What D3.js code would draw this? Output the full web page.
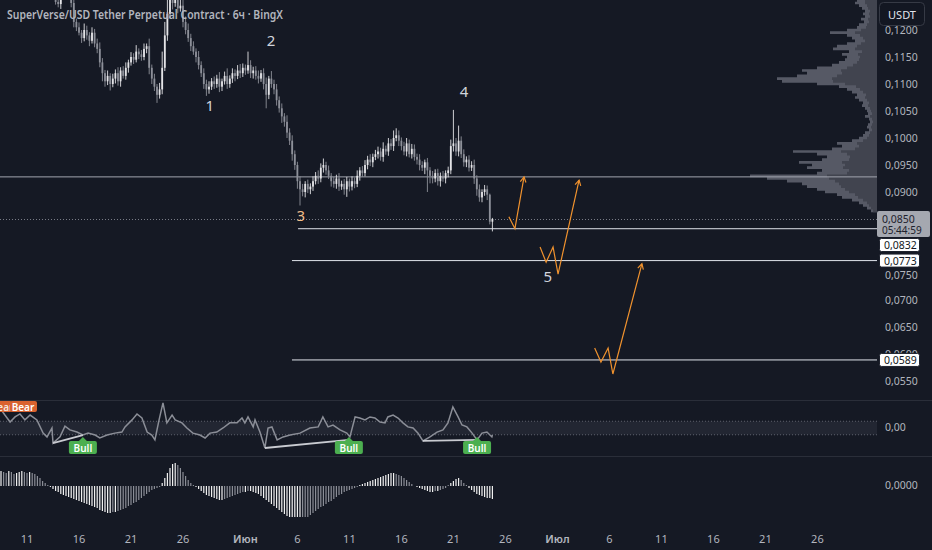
<!DOCTYPE html>
<html><head><meta charset="utf-8">
<script src="https://cdn.jsdelivr.net/npm/d3@7"></script>
<style>
html,body{margin:0;padding:0;background:#151924;}
svg{display:block;font-family:"Noto Sans","Open Sans",sans-serif;}
</style></head><body>
<svg id="c" width="932" height="550"></svg>
<script>
// ---------------- DATA ----------------
const title = "SuperVerse/USD Tether Perpetual Contract · 6ч · BingX";
const candleStartISO = "2024-05-08T00:00Z"; // first 6h candle
const firstOpen = 1295; // price units of 0.0001
const closes = [
1300,1310,1295,1320,1305,1290,1300,1315,1330,1310,1295,1285,1300,1290,1305,1295,1280,1290,1285,1275,1280,1270,1265,
1252,1248,1262,1270,1275,1268,1250,1215,
1205,1195,1185,1200,1190,1180,1195,1175,1165,
1140,1120,1105,1115,1100,
1110,1120,1105,1125,1115,1130,
1140,1150,1145,1160,1155,1150,1165,1170,
1130,1110,1095,1080,1090,
1130,1190,1230,1270,1250,1265,1240,1245,1215,
1200,1185,1170,1160,1150,1135,1120,1100,1090,
1095,1105,1100,1110,1095,1105,1115,1100,1110,1120,
1115,1125,1120,1130,1125,1135,1120,1125,
1115,1110,1120,1100,1080,1110,1100,1090,1070,1055,1040,1030,
1010,995,970,950,920,905,
900,915,905,910,
920,930,925,945,950,940,
930,920,915,925,910,915,905,920,910,
920,915,930,940,935,950,960,955,965,
970,975,965,980,975,990,985,
1000,1005,995,
985,975,990,970,980,965,
960,950,945,955,940,
930,925,935,920,930,925,935,940,
985,990,975,995,970,
955,960,945,950,
925,905,890,900,
905,895,845,850];
const upWick = [
8,5,12,6,9,4,10,7,15,5,8,6,11,4,9,7,5,10,6,8,
7,5,6,9,12,8,5,7,10,14,20,6,9,5,12,8,6,10,7,9,
12,8,6,10,5,9,7,11,6,8,10,5,9,7,12,6,8,10,5,14,
6,9,5,12,30,25,40,20,35,15,28,18,22,10,12,8,9,6,11,7,
9,8,10,6,9,7,12,5,8,14,6,9,7,10,12,8,6,25,9,7,
8,10,6,9,12,5,14,8,10,7,9,6,12,8,10,7,6,9,10,5,
8,6,9,7,10,8,12,6,9,5,8,7,10,6,9,8,5,9,7,10,
6,8,9,7,10,6,8,9,7,12,6,10,8,14,13,9,6,8,10,7,
9,8,6,10,7,5,8,6,9,7,8,6,9,5,7,12,62,10,28,8,
9,6,8,7,10,6,9,5,8,7,2,2];
const dnWick = [
6,9,5,8,4,10,7,6,5,9,8,12,5,7,6,10,8,6,9,5,
8,6,7,5,6,9,4,7,6,8,10,7,5,9,6,8,10,5,7,8,
9,15,10,7,12,6,9,8,10,5,7,9,6,8,5,9,7,6,8,12,
10,8,15,7,9,6,10,8,12,7,9,6,10,8,7,9,6,10,8,7,
9,12,8,6,9,7,10,8,6,9,7,8,10,6,9,7,8,6,9,10,
7,9,6,10,25,8,7,9,10,8,12,9,10,8,12,9,14,30,8,10,
7,9,8,6,10,7,9,8,6,10,7,9,8,6,10,14,9,7,8,6,
9,7,6,8,7,9,6,8,7,9,6,8,7,9,6,10,8,7,9,6,
8,7,9,10,6,12,40,14,9,7,8,10,6,9,8,7,10,8,9,7,
8,9,7,6,10,12,8,9,7,10,5,18];

// volume profile (bins of 0.0005 from 0.1255 down)
const profileTop = 0.1255, profileStep = 0.0005;
const profileTotal = [20,22,18,15,12,14,12,16,13,18,20,30,47,30,25,22,30,40,44,28,35,30,32,38,45,60,75,70,80,100,95,60,38,30,25,20,22,18,14,15,12,10,9,12,8,7,9,10,8,12,14,18,25,40,35,45,84,60,50,55,78,65,70,55,60,127,110,90,75,70,60,52,40,35,25,18,14,10,6];
const profileInner = [12,12,10,9,7,8,7,9,8,10,11,16,22,17,14,12,16,20,22,15,19,17,18,20,24,30,36,35,40,45,44,32,21,17,14,11,12,10,8,9,7,6,5,7,5,4,5,6,5,7,8,10,14,20,18,22,36,30,27,28,35,32,34,28,30,50,48,42,38,36,32,28,22,19,14,10,8,6,4];

// oscillator [candle index, value]
const osc = [[0,0.68],[1.6,0.74],[3.5,0.48],[5.5,0.22],[7.4,0.41],[9.3,0.52],[11.2,0.30],[13.2,0.48],[15.8,0.30],[18.2,-0.19],[19.7,-0.33],[21.6,0.0],[22,-0.56],[24.7,-0.33],[26.6,0.07],[28.5,-0.07],[31.2,-0.15],[33.5,-0.26],[35.5,-0.19],[38.2,-0.26],[40,-0.37],[42.8,-0.26],[45.8,-0.19],[48.5,-0.15],[49.7,0.04],[52.4,0.30],[54.3,0.52],[56.2,0.37],[58.2,-0.15],[60,-0.26],[61.2,-0.44],[62.8,0.30],[64.3,0.93],[65.8,0.19],[67.8,0.48],[69,0.30],[71.6,0.19],[73.5,0],[75.8,-0.19],[78.5,-0.26],[80.5,-0.37],[82.4,-0.19],[85,-0.15],[87.4,0],[90,0.19],[92.8,0.19],[94.7,0.37],[95.8,0.19],[97,0.41],[99,0.04],[99.7,0.30],[101.6,-0.15],[103.5,-0.74],[104.7,0],[106.2,0.04],[108.2,-0.44],[110.5,-0.33],[113.2,-0.26],[117,-0.19],[120.8,0],[124,0.04],[125.8,0.41],[127.8,0.04],[129.7,0.11],[132.4,-0.07],[135,-0.19],[136.2,-0.33],[138.2,0.41],[140,0.37],[142,0.30],[143.9,0.41],[145.8,0.37],[147.8,0.22],[149.7,0.19],[150.8,0.41],[152.8,0.48],[154.7,0.37],[156.6,0.19],[158.5,0.04],[160.5,0],[162.4,-0.19],[164.3,-0.48],[167,-0.33],[169.7,-0.15],[172,-0.07],[173.9,0.19],[175.8,0.78],[177.8,0.41],[179.3,0.11],[181.2,0.04],[183.2,-0.19],[185.1,-0.44],[187,-0.19],[188.9,-0.15],[190.8,-0.33],[191,-0.26]];
const divergences = [[[22,-0.56],[33.5,-0.26]],[[103.5,-0.74],[135.8,-0.44]],[[164.3,-0.48],[185.1,-0.44]]];

// MACD histogram (one per candle)
const hist = [13,14,15,14,13,15,14,12,13,14,15,14,13,14,13,12,
10,8,5,3,1,
-1,-3,-5,-6,-8,-9,-10,-11,-12,-13,-14,-15,-16,-17,-18,-19,-20,-21,
-22,-24,-25,-26,-27,-27,-26,-26,
-25,-24,-23,-22,-20,-19,-17,-16,-14,-12,-10,-8,-6,-4,
-3,-2,-1,
3,8,13,18,22,23,21,18,14,
10,6,3,1,-1,-3,
-5,-7,-9,-10,-11,-12,-13,-14,-14,-13,-12,-11,-10,-9,
-8,-7,-6,-6,-5,-5,-6,-7,
-8,-10,-12,-14,-16,-18,-20,-22,-24,-26,-28,-30,-31,-33,-34,-35,-35,
-34,-33,-31,-29,-27,-25,-23,-21,-20,-18,-16,-15,-13,-11,-9,-8,-6,-5,
-4,-3,-2,-1,1,
2,3,4,5,6,7,8,9,10,11,12,13,13,12,11,10,8,
6,4,2,0,-1,-2,-3,
-4,-5,-6,-6,-5,-5,-4,-3,-2,
1,3,5,7,8,6,
3,1,-2,-4,-6,-8,-9,-10,-11,-12,-12,-13];

// drawings
const fullLine = 0.0928;
const rays = [{start:"2024-06-06T01:30Z", price:0.0832},{start:"2024-06-05T11:30Z", price:0.0773},{start:"2024-06-05T11:30Z", price:0.0589}];
const currentPrice = 0.0850, countdown = "05:44:59";
const arrows = [
 [["2024-06-26T08:00Z",0.0854],["2024-06-26T22:00Z",0.0832],["2024-06-27T19:00Z",0.0928]],
 [["2024-06-29T08:00Z",0.0798],["2024-06-29T22:00Z",0.0770],["2024-06-30T14:00Z",0.0798],["2024-07-01T01:30Z",0.0748],["2024-07-03T02:00Z",0.0922]],
 [["2024-07-04T14:00Z",0.0611],["2024-07-05T04:30Z",0.0585],["2024-07-05T21:00Z",0.0611],["2024-07-06T08:00Z",0.0563],["2024-07-09T03:00Z",0.0767]]
];
const waveLabels = [
 {t:"1", d:"2024-05-28T14:00Z", p:0.1061, c:"#d1d4dc"},
 {t:"2", d:"2024-06-03T11:00Z", p:0.1181, c:"#d1d4dc"},
 {t:"3", d:"2024-06-06T08:00Z", p:0.0857, c:"#f0bd8a"},
 {t:"4", d:"2024-06-22T00:30Z", p:0.1087, c:"#d1d4dc"},
 {t:"5", d:"2024-06-30T02:00Z", p:0.0744, c:"#d1d4dc"}
];
const priceTicks = [0.120,0.115,0.110,0.105,0.100,0.095,0.090,0.085,0.080,0.075,0.070,0.065,0.060,0.055];
const timeTicks = ["2024-05-11","2024-05-16","2024-05-21","2024-05-26","2024-06-01","2024-06-06","2024-06-11","2024-06-16","2024-06-21","2024-06-26","2024-07-01","2024-07-06","2024-07-11","2024-07-16","2024-07-21","2024-07-26"];
const timeLabels = ["11","16","21","26","Июн","6","11","16","21","26","Июл","6","11","16","21","26"];

// ---------------- DRAW ----------------
const W = 932, H = 550, PW = 877;
const DAY = 864e5, HOUR = 36e5;
const svg = d3.select("#c");
const bg = "#151924";
svg.append("rect").attr("width",W).attr("height",H).attr("fill",bg);

const t0 = Date.UTC(2024,4,11);
const x = d3.scaleTime().domain([new Date(t0 - 27/10.4*DAY), new Date(t0 + 850/10.4*DAY)]).range([0, PW]);
const y = d3.scaleLinear().domain([0.055, 0.12]).range([381, 30]);
const oy = d3.scaleLinear().domain([-1, 1]).range([455, 401]);
const hy = d3.scaleLinear().domain([-30, 30]).range([516, 456]);
const cs = Date.parse(candleStartISO);
const tOf = i => new Date(cs + i*6*HOUR);
const fmt4 = v => d3.format(".4f")(v).replace(".", ",");

const defs = svg.append("defs");
defs.append("clipPath").attr("id","cMain").append("rect").attr("x",0).attr("y",0).attr("width",PW).attr("height",400);
defs.append("clipPath").attr("id","cOsc").append("rect").attr("x",0).attr("y",401).attr("width",PW).attr("height",55);
defs.append("clipPath").attr("id","cHist").append("rect").attr("x",0).attr("y",457).attr("width",PW).attr("height",60);

// pane separators
[400.5, 456.5].forEach(v => svg.append("line").attr("x1",0).attr("x2",W).attr("y1",v).attr("y2",v).attr("stroke","#2a2e39"));

const main = svg.append("g").attr("clip-path","url(#cMain)");

// volume profile (step areas)
const pw = d3.scaleLinear().domain([0, 127]).range([0, 127]);
const profRows = profileTotal.map((v,k) => ({p: profileTop - k*profileStep, tot: v, inn: profileInner[k]}));
const stepRows = [];
profRows.forEach(r => { stepRows.push({y: y(r.p + profileStep/2), r}); stepRows.push({y: y(r.p - profileStep/2), r}); });
const areaTot = d3.area().y(d=>d.y).x0(PW).x1(d=>PW - pw(d.r.tot));
const areaInn = d3.area().y(d=>d.y).x0(PW).x1(d=>PW - pw(d.r.inn));
main.append("path").attr("d", areaTot(stepRows)).attr("fill","#565965");
main.append("path").attr("d", areaInn(stepRows)).attr("fill","#41444f");

// horizontal lines
main.append("line").attr("x1",0).attr("x2",PW).attr("y1",y(fullLine)).attr("y2",y(fullLine)).attr("stroke","#a3a6af").attr("stroke-width",1);
rays.forEach(r => main.append("line").attr("x1",x(new Date(r.start))).attr("x2",PW).attr("y1",y(r.price)).attr("y2",y(r.price)).attr("stroke","#e0e3eb").attr("stroke-width",1));
main.append("line").attr("x1",0).attr("x2",PW).attr("y1",Math.round(y(currentPrice))+0.5).attr("y2",Math.round(y(currentPrice))+0.5)
  .attr("stroke","#787b86").attr("stroke-dasharray","1,2");

// candles
const candles = closes.map((c,i) => {
  const o = i ? closes[i-1] : firstOpen;
  return {t:tOf(i), o:o/1e4, c:c/1e4, h:(Math.max(o,c)+upWick[i])/1e4, l:(Math.min(o,c)-dnWick[i])/1e4};
});
const cg = main.append("g");
candles.forEach(d => {
  const cx = x(d.t);
  const col = d.c >= d.o ? "#e3e3e6" : "#8d9099";
  cg.append("line").attr("x1",cx).attr("x2",cx).attr("y1",y(d.h)).attr("y2",y(d.l)).attr("stroke",col).attr("stroke-width",0.9);
  const yt = y(Math.max(d.o,d.c)), yb = y(Math.min(d.o,d.c));
  cg.append("rect").attr("x",cx-0.9).attr("y",yt).attr("width",1.8).attr("height",Math.max(1,yb-yt)).attr("fill",col);
});

// orange arrows
arrows.forEach(a => {
  const pts = a.map(p => [x(new Date(p[0])), y(p[1])]);
  main.append("path").attr("d", d3.line()(pts)).attr("fill","none").attr("stroke","#f0922e").attr("stroke-width",1.2);
  const [x1,y1] = pts[pts.length-2], [x2,y2] = pts[pts.length-1];
  const ang = Math.atan2(y2-y1, x2-x1), L = 6;
  const h1 = [x2 - L*Math.cos(ang-0.5), y2 - L*Math.sin(ang-0.5)];
  const h2 = [x2 - L*Math.cos(ang+0.5), y2 - L*Math.sin(ang+0.5)];
  main.append("path").attr("d", d3.line()([h1,[x2,y2],h2])).attr("fill","none").attr("stroke","#f0922e").attr("stroke-width",1.2);
});

// wave labels
waveLabels.forEach(l => main.append("text").attr("x",x(new Date(l.d))).attr("y",y(l.p)).attr("text-anchor","middle")
  .attr("dominant-baseline","central").attr("font-size",15).attr("fill",l.c).text(l.t));

// title
svg.append("text").attr("x",7).attr("y",19).attr("font-size",12.5).attr("font-weight",600).attr("fill","#b2b5be")
  .attr("textLength",276).attr("lengthAdjust","spacingAndGlyphs").text(title);

// ---- oscillator pane ----
const og = svg.append("g").attr("clip-path","url(#cOsc)");
og.append("rect").attr("x",0).attr("width",PW).attr("y",oy(0.25)).attr("height",oy(-0.25)-oy(0.25)).attr("fill","#222632");
[0.25,-0.25].forEach(v => og.append("line").attr("x1",0).attr("x2",PW).attr("y1",oy(v)).attr("y2",oy(v)).attr("stroke","#5d606b").attr("stroke-dasharray","1,2"));
og.append("path").attr("d", d3.line().x(d=>x(tOf(d[0]))).y(d=>oy(d[1]))(osc)).attr("fill","none").attr("stroke","#8b8e97").attr("stroke-width",1.5);
divergences.forEach(dv => og.append("path").attr("d", d3.line().x(d=>x(tOf(d[0]))).y(d=>oy(d[1]))(dv)).attr("stroke","#c9cbd1").attr("stroke-width",1.8).attr("fill","none"));
divergences.forEach(dv => {
  const e = dv[dv.length-1], cx = x(tOf(e[0]));
  const top = 441;
  og.append("path").attr("d",`M${cx-4},${top}L${cx},${top-4}L${cx+4},${top}Z`).attr("fill","#4caf50");
  og.append("rect").attr("x",cx-14).attr("y",top).attr("width",28).attr("height",13).attr("rx",2).attr("fill","#4caf50");
  og.append("text").attr("x",cx).attr("y",top+6.8).attr("text-anchor","middle").attr("dominant-baseline","central").attr("font-size",10).attr("font-weight",600).attr("fill","#ffffff").text("Bull");
});
// bear labels at the left edge (two overlapping)
og.append("rect").attr("x",-26).attr("y",401).attr("width",38).attr("height",11).attr("rx",2).attr("fill","#d9622f");
og.append("text").attr("x",2).attr("y",406.5).attr("text-anchor","middle").attr("dominant-baseline","central").attr("font-size",10).attr("font-weight",600).attr("fill","#f2e6df").text("Bear");
og.append("rect").attr("x",10).attr("y",401).attr("width",27).attr("height",11).attr("rx",2).attr("fill","#d9622f");
og.append("text").attr("x",23).attr("y",406.5).attr("text-anchor","middle").attr("dominant-baseline","central").attr("font-size",10).attr("font-weight",600).attr("fill","#fff").text("Bear");

// ---- histogram pane ----
const hg = svg.append("g").attr("clip-path","url(#cHist)");
hist.forEach((v,i) => {
  const prev = i ? hist[i-1] : v;
  const col = Math.abs(v) >= Math.abs(prev) ? "#f0f0f0" : "#8a8d96";
  const cx = x(tOf(i));
  hg.append("rect").attr("x",cx-0.6).attr("width",1.2).attr("y",Math.min(hy(v),hy(0))).attr("height",Math.abs(hy(v)-hy(0))).attr("fill",col);
});

// ---- price axis ----
const ax = svg.append("g");
const cy = y(currentPrice);
const boxes = [{top: cy-8, bottom: cy+18}];
let minTop = cy + 19;
const rayBoxes = rays.slice().sort((a,b)=>b.price-a.price).map(r => {
  const top = Math.max(y(r.price) - 7, minTop);
  minTop = top + 15;
  boxes.push({top, bottom: top+14});
  return {r, top};
});
priceTicks.forEach(p => {
  const py = y(p);
  const hidden = boxes.some(b => py > b.top - 1 && py < b.bottom + 1);
  if (hidden && Math.abs(p - 0.060) > 1e-9) return; // fully covered in the picture
  ax.append("text").attr("x",885).attr("y",py + (Math.abs(p-0.075)<1e-9 ? 1.5 : 0)).attr("dominant-baseline","central").attr("font-size",10.5).attr("fill","#b2b5be").text(fmt4(p));
});
ax.append("text").attr("x",885).attr("y",oy(0)-1).attr("dominant-baseline","central").attr("font-size",10.5).attr("fill","#b2b5be").text("0,00");
ax.append("text").attr("x",885).attr("y",hy(0)-1).attr("dominant-baseline","central").attr("font-size",10.5).attr("fill","#b2b5be").text("0,0000");

ax.append("rect").attr("x",877).attr("y",cy-8).attr("width",53).attr("height",26).attr("rx",2).attr("fill","#a5a8b0");
ax.append("text").attr("x",882).attr("y",cy-0.5).attr("dominant-baseline","central").attr("font-size",10.5).attr("fill","#1e222d").text(fmt4(currentPrice));
ax.append("text").attr("x",882).attr("y",cy+11).attr("dominant-baseline","central").attr("font-size",10).attr("fill","#1e222d").text(countdown);
rayBoxes.forEach(({r, top}) => {
  ax.append("rect").attr("x",879.5).attr("y",top+0.5).attr("width",40).attr("height",13).attr("rx",2).attr("fill","#ffffff").attr("stroke","#1e222d");
  ax.append("text").attr("x",884).attr("y",top+7).attr("dominant-baseline","central").attr("font-size",10.5).attr("fill","#131722").text(fmt4(r.price));
});

// USDT button
ax.append("rect").attr("x",879.5).attr("y",2.5).attr("width",45).attr("height",23).attr("rx",4).attr("fill","#131722").attr("stroke","#363a45");
ax.append("text").attr("x",902).attr("y",14).attr("text-anchor","middle").attr("dominant-baseline","central").attr("font-size",11).attr("fill","#e0e3eb").text("USDT");

// ---- time axis ----
timeTicks.forEach((t,k) => svg.append("text").attr("x",x(new Date(t+"T00:00Z"))).attr("y",538).attr("text-anchor","middle")
  .attr("dominant-baseline","central").attr("font-size",11).attr("font-weight", isNaN(+timeLabels[k]) ? 600 : 400)
  .attr("fill","#b2b5be").text(timeLabels[k]));
</script>
</body></html>
